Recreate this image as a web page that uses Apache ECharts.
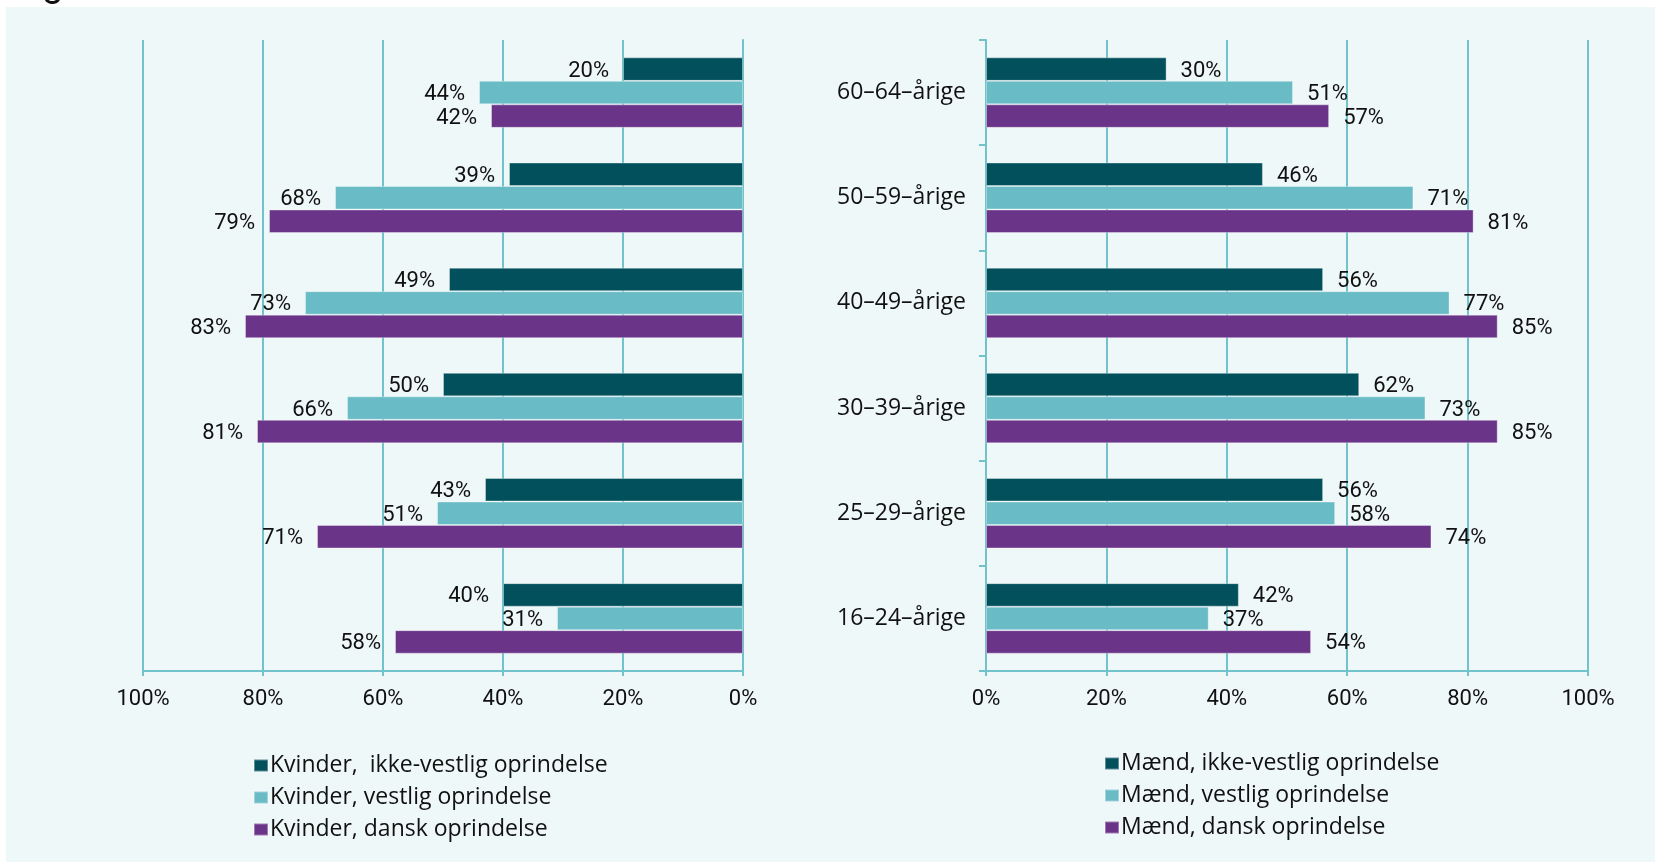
<!DOCTYPE html>
<html>
<head>
<meta charset="utf-8">
<script src="https://cdn.jsdelivr.net/npm/echarts@6/dist/echarts.min.js"></script>
<style>
html,body{margin:0;padding:0;background:#ffffff;}
#chart{width:1655px;height:862px;}
</style>
</head>
<body>
<div id="chart"></div>
<script>
// Categories, top to bottom
var categories = ['60–64–årige', '50–59–årige', '40–49–årige', '30–39–årige', '25–29–årige', '16–24–årige'];
var xTicks = [0, 20, 40, 60, 80, 100];

// Women (left panel)
var kvinderIkkeVestlig = [20, 39, 49, 50, 43, 40];
var kvinderVestlig     = [44, 68, 73, 66, 51, 31];
var kvinderDansk       = [42, 79, 83, 81, 71, 58];

// Men (right panel)
var maendIkkeVestlig = [30, 46, 56, 62, 56, 42];
var maendVestlig     = [51, 71, 77, 73, 58, 37];
var maendDansk       = [57, 81, 85, 85, 74, 54];

var seriesNamesLeft  = ['Kvinder,  ikke-vestlig oprindelse', 'Kvinder, vestlig oprindelse', 'Kvinder, dansk oprindelse'];
var seriesNamesRight = ['Mænd, ikke-vestlig oprindelse', 'Mænd, vestlig oprindelse', 'Mænd, dansk oprindelse'];

var COLORS = ['#02505C', '#69BBC6', '#6A3589'];
var GRID = '#72C2CC';
var NUMFONT = 'Roboto';
var TXTFONT = 'Open Sans';
var FS = 22;
var TFS = 23;

function mkSeries(name, data, idx, color, side) {
  return {
    name: name, type: 'bar', data: data,
    xAxisIndex: idx, yAxisIndex: idx,
    barGap: '0%', barCategoryGap: '33%',
    itemStyle: { color: color, borderColor: 'rgba(255,255,255,0.35)', borderWidth: 1 },
    label: {
      show: true, position: side, distance: 14, offset: [0, 2],
      formatter: '{c}%', color: '#111', fontFamily: NUMFONT, fontSize: FS
    },
    emphasis: { disabled: true },
    animation: false
  };
}

function mkX(gridIndex, inverse) {
  return {
    type: 'value', gridIndex: gridIndex, min: 0, max: 100, interval: 20, inverse: inverse,
    axisLine: { show: true, lineStyle: { color: GRID, width: 2 } },
    axisTick: { show: true, length: 5, lineStyle: { color: GRID, width: 2 } },
    splitLine: { show: true, lineStyle: { color: GRID, width: 2 } },
    axisLabel: { formatter: '{value}%', color: '#111', fontFamily: NUMFONT, fontSize: FS, margin: 17 }
  };
}

var chart = echarts.init(document.getElementById('chart'), null, { renderer: 'canvas' });
chart.setOption({
  animation: false,
  backgroundColor: '#ffffff',
  textStyle: { fontFamily: TXTFONT },
  graphic: [
    { type: 'rect', z: -10, silent: true, shape: { x: 6, y: 7, width: 1660, height: 870 }, style: { fill: '#EFF8F9' } },
    { type: 'text', z: -5, silent: true, x: 12, y: 5, style: { text: 'Figur', font: '38px Roboto', fill: '#111', verticalAlign: 'bottom' } }
  ],
  grid: [
    { left: 143, right: 912, top: 40, bottom: 191, containLabel: false },
    { left: 986, right: 67, top: 40, bottom: 191, containLabel: false }
  ],
  xAxis: [ mkX(0, true), mkX(1, false) ],
  yAxis: [
    {
      type: 'category', gridIndex: 0, data: categories, inverse: true, position: 'right',
      axisLine: { show: true, lineStyle: { color: GRID, width: 2 } },
      axisTick: { show: false }, axisLabel: { show: false }, splitLine: { show: false }
    },
    {
      type: 'category', gridIndex: 1, data: categories, inverse: true, position: 'left',
      axisLine: { show: true, lineStyle: { color: GRID, width: 2 } },
      axisTick: { show: true, inside: false, length: 7, lineStyle: { color: GRID, width: 2 } },
      axisLabel: { color: '#111', fontFamily: TXTFONT, fontSize: TFS, margin: 20 },
      splitLine: { show: false }
    }
  ],
  legend: [
    {
      data: seriesNamesLeft, orient: 'vertical', left: 248, top: 748,
      itemWidth: 14, itemHeight: 12, itemGap: 7, icon: 'rect',
      textStyle: { color: '#111', fontFamily: TXTFONT, fontSize: TFS, padding: [0, 0, 0, -3], lineHeight: 25 },
      selectedMode: false
    },
    {
      data: seriesNamesRight, orient: 'vertical', left: 1099, top: 746,
      itemWidth: 14, itemHeight: 12, itemGap: 7, icon: 'rect',
      textStyle: { color: '#111', fontFamily: TXTFONT, fontSize: TFS, padding: [0, 0, 0, -3], lineHeight: 25 },
      selectedMode: false
    }
  ],
  series: [
    mkSeries(seriesNamesLeft[0], kvinderIkkeVestlig, 0, COLORS[0], 'left'),
    mkSeries(seriesNamesLeft[1], kvinderVestlig, 0, COLORS[1], 'left'),
    mkSeries(seriesNamesLeft[2], kvinderDansk, 0, COLORS[2], 'left'),
    mkSeries(seriesNamesRight[0], maendIkkeVestlig, 1, COLORS[0], 'right'),
    mkSeries(seriesNamesRight[1], maendVestlig, 1, COLORS[1], 'right'),
    mkSeries(seriesNamesRight[2], maendDansk, 1, COLORS[2], 'right')
  ]
});
</script>
</body>
</html>
